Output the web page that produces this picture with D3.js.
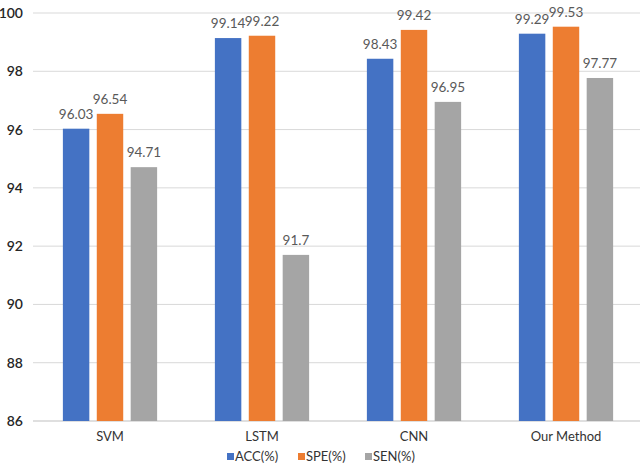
<!DOCTYPE html>
<html><head><meta charset="utf-8">
<script src="https://cdn.jsdelivr.net/npm/d3@7"></script>
<style>body{margin:0;background:#fff}svg{display:block}text{font-family:Lato,"Open Sans",sans-serif}</style>
</head><body><svg id="c" width="644" height="468"></svg>
<script>
const categories = ["SVM","LSTM","CNN","Our Method"];
const seriesNames = ["ACC(%)","SPE(%)","SEN(%)"];
const acc = [96.03, 99.14, 98.43, 99.29];
const spe = [96.54, 99.22, 99.42, 99.53];
const sen = [94.71, 91.7, 96.95, 97.77];
const yTicks = [86,88,90,92,94,96,98,100];
const colors = ["#4472C4","#ED7D31","#A5A5A5"];

const series = [acc, spe, sen];
const svg = d3.select("#c");
const x0 = d3.scaleBand().domain(categories).range([34, 642]).paddingInner(0.38).paddingOuter(0.19);
const x1 = d3.scaleBand().domain(seriesNames).range([0, x0.bandwidth()]).paddingInner(0.22);
const y = d3.scaleLinear().domain([86, 100]).range([421, 13]);

// grid
svg.append("g").selectAll("line").data(yTicks).join("line")
  .attr("x1", 33).attr("x2", 640)
  .attr("y1", d => y(d)).attr("y2", d => y(d))
  .attr("stroke", d => d === 86 ? "#bfbfbf" : "#d9d9d9").attr("stroke-width", 1);

// y axis labels
const yAxis = d3.axisLeft(y).tickValues(yTicks).tickSize(0).tickPadding(0);
const ya = svg.append("g").attr("transform", "translate(23,0)").call(yAxis);
ya.select(".domain").remove();
ya.selectAll("text").attr("font-size", 14).attr("font-weight", 600).attr("fill", "#262626").attr("font-family", "Lato,sans-serif");

// bars
const groups = svg.append("g").selectAll("g").data(categories).join("g")
  .attr("transform", d => `translate(${x0(d)},0)`);
groups.selectAll("rect").data((d, i) => series.map((s, j) => ({name: seriesNames[j], v: s[i], c: colors[j]})))
  .join("rect")
  .attr("x", d => x1(d.name)).attr("width", x1.bandwidth())
  .attr("y", d => y(d.v)).attr("height", d => y(86) - y(d.v))
  .attr("fill", d => d.c);
groups.selectAll("text").data((d, i) => series.map((s, j) => ({name: seriesNames[j], v: s[i]})))
  .join("text")
  .attr("x", d => x1(d.name) + x1.bandwidth() / 2).attr("y", d => y(d.v) - 10)
  .attr("text-anchor", "middle").attr("font-size", 13.5).attr("fill", "#595959")
  .text(d => d.v);

// x axis labels
const xAxis = d3.axisBottom(x0).tickSize(0).tickPadding(0);
const xa = svg.append("g").attr("transform", "translate(0,432)").call(xAxis);
xa.select(".domain").remove();
xa.selectAll("text").attr("font-size", 13).attr("fill", "#333333").attr("font-family", "Lato,sans-serif");

// legend
const legX = [227, 298, 365];
const leg = svg.append("g").selectAll("g").data(seriesNames).join("g")
  .attr("transform", (d, i) => `translate(${legX[i]},453)`);
leg.append("rect").attr("width", 7).attr("height", 7).attr("y", 0).attr("fill", (d, i) => colors[i]);
leg.append("text").attr("x", 8).attr("y", 8).attr("font-size", 13).attr("fill", "#333333").text(d => d);
</script></body></html>
